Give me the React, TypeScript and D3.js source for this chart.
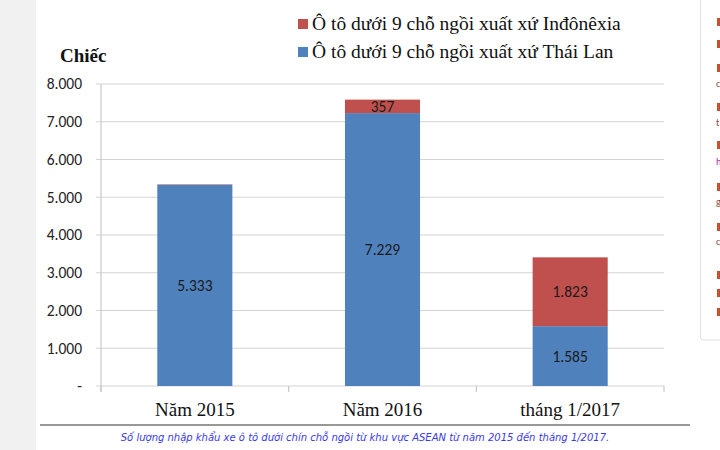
import React, { useRef, useEffect } from 'react';
import * as d3 from 'd3';

const categories = ['Năm 2015', 'Năm 2016', 'tháng 1/2017'];
const thaiLan = [5333, 7229, 1585];
const indonesia = [10, 357, 1823];
const yTicks = [0, 1000, 2000, 3000, 4000, 5000, 6000, 7000, 8000];
const seriesNames = [
  'Ô tô dưới 9 chỗ ngồi xuất xứ Inđônêxia',
  'Ô tô dưới 9 chỗ ngồi xuất xứ Thái Lan',
];
const caption =
  'Số lượng nhập khẩu xe ô tô dưới chín chỗ ngồi từ khu vực ASEAN từ năm 2015 đến tháng 1/2017.';
const sideMarks = [22, 44, 68, 107, 145, 187, 227, 275, 293, 312];
const sideLetters = [
  { y: 87, t: 'c' },
  { y: 126, t: 't' },
  { y: 165, t: 'h' },
  { y: 205, t: 'g' },
  { y: 245, t: 'c' },
];

const BLUE = '#4F81BD';
const RED = '#C0504D';

const fmt = (v: number) => (v === 0 ? '-' : d3.format(',')(v).replace(/,/g, '.'));

const App: React.FC = () => {
  const svgRef = useRef<SVGSVGElement>(null);

  useEffect(() => {
    if (!svgRef.current) return;
    const svg = d3.select(svgRef.current);
    svg.selectAll('*').remove();

    const width = 720;
    const height = 450;
    const sans = 'Calibri, Carlito, "Open Sans", "DejaVu Sans", sans-serif';
    const serif = '"Liberation Serif", "Times New Roman", serif';

    // background strips
    svg.append('rect').attr('width', width).attr('height', height).attr('fill', '#fff');
    svg.append('rect').attr('x', 0).attr('y', 0).attr('width', 36).attr('height', height).attr('fill', '#f1f1f1');

    // side panel (cropped page content)
    svg
      .append('rect')
      .attr('x', 700.5)
      .attr('y', -5)
      .attr('width', 40)
      .attr('height', 345)
      .attr('rx', 3)
      .attr('fill', '#fff')
      .attr('stroke', '#e2e2e2');
    sideMarks.forEach(y => {
      svg.append('rect').attr('x', 717).attr('y', y - 4).attr('width', 4).attr('height', 8).attr('fill', '#c8502a');
    });
    sideLetters.forEach(d => {
      svg
        .append('text')
        .attr('x', 716)
        .attr('y', d.y)
        .attr('font-family', sans)
        .attr('font-size', 10)
        .attr('fill', d.t === 'h' ? '#a0309a' : '#8a5040')
        .text(d.t);
    });

    const left = 101;
    const right = 664;
    const top = 84;
    const bottom = 386;

    const x = d3.scaleBand<string>().domain(categories).range([left, right]).padding(0);
    const y = d3.scaleLinear().domain([0, 8000]).range([bottom, top]);
    const barW = x.bandwidth() * 0.4;

    // gridlines
    svg
      .selectAll('.grid')
      .data(yTicks)
      .enter()
      .append('line')
      .attr('x1', left - 5)
      .attr('x2', right)
      .attr('y1', d => y(d))
      .attr('y2', d => y(d))
      .attr('stroke', '#d4d4d4')
      .attr('stroke-width', 1.2);

    // y axis line
    svg
      .append('line')
      .attr('x1', left)
      .attr('x2', left)
      .attr('y1', top)
      .attr('y2', bottom + 6)
      .attr('stroke', '#c8c8c8')
      .attr('stroke-width', 1.2);

    // category tick marks
    const bounds = [left, ...categories.map(c => (x(c) || 0) + x.bandwidth())];
    bounds.forEach(b => {
      svg
        .append('line')
        .attr('x1', b)
        .attr('x2', b)
        .attr('y1', bottom)
        .attr('y2', bottom + 6)
        .attr('stroke', '#c8c8c8')
        .attr('stroke-width', 1.2);
    });

    // y tick labels
    svg
      .selectAll('.ylab')
      .data(yTicks)
      .enter()
      .append('text')
      .attr('x', 82)
      .attr('y', d => y(d))
      .attr('dy', '0.35em')
      .attr('text-anchor', 'end')
      .attr('font-family', sans)
      .attr('font-size', 15.5)
      .attr('fill', '#222')
      .text(d => fmt(d));

    // bars
    categories.forEach((c, i) => {
      const cx = (x(c) || 0) + x.bandwidth() / 2;
      const t = thaiLan[i];
      const ind = indonesia[i];
      svg
        .append('rect')
        .attr('x', cx - barW / 2)
        .attr('y', y(t))
        .attr('width', barW)
        .attr('height', y(0) - y(t))
        .attr('fill', BLUE);
      svg
        .append('rect')
        .attr('x', cx - barW / 2)
        .attr('y', y(t + ind))
        .attr('width', barW)
        .attr('height', y(t) - y(t + ind))
        .attr('fill', RED);

      svg
        .append('text')
        .attr('x', cx)
        .attr('y', (y(0) + y(t)) / 2)
        .attr('dy', '0.35em')
        .attr('text-anchor', 'middle')
        .attr('font-family', sans)
        .attr('font-size', 15.5)
        .attr('fill', '#1a1a1a')
        .text(fmt(t));
      if (ind > 100) {
        svg
          .append('text')
          .attr('x', cx)
          .attr('y', (y(t) + y(t + ind)) / 2)
          .attr('dy', '0.35em')
          .attr('text-anchor', 'middle')
          .attr('font-family', sans)
          .attr('font-size', 15.5)
          .attr('fill', '#1a1a1a')
          .text(fmt(ind));
      }

      svg
        .append('text')
        .attr('x', cx)
        .attr('y', 416)
        .attr('text-anchor', 'middle')
        .attr('font-family', serif)
        .attr('font-size', 19)
        .attr('fill', '#111')
        .text(c);
    });

    // axis unit
    svg
      .append('text')
      .attr('x', 60)
      .attr('y', 62)
      .attr('font-family', serif)
      .attr('font-size', 19)
      .attr('font-weight', 'bold')
      .attr('fill', '#111')
      .text('Chiếc');

    // legend
    const legendColors = [RED, BLUE];
    seriesNames.forEach((name, i) => {
      const ly = 30 + i * 28;
      svg
        .append('rect')
        .attr('x', 298)
        .attr('y', ly - 11)
        .attr('width', 10)
        .attr('height', 10)
        .attr('fill', legendColors[i]);
      svg
        .append('text')
        .attr('x', 312)
        .attr('y', ly)
        .attr('font-family', serif)
        .attr('font-size', 19.5)
        .attr('fill', '#111')
        .text(name);
    });

    // caption
    svg
      .append('line')
      .attr('x1', 40)
      .attr('x2', 690)
      .attr('y1', 425)
      .attr('y2', 425)
      .attr('stroke', '#333')
      .attr('stroke-width', 1.2);
    svg
      .append('text')
      .attr('x', 365)
      .attr('y', 441)
      .attr('text-anchor', 'middle')
      .attr('font-family', '"DejaVu Sans", Verdana, sans-serif')
      .attr('font-size', 10)
      .attr('font-style', 'italic')
      .attr('fill', '#3a3ae6')
      .text(caption);
  }, []);

  return (
    <svg
      ref={svgRef}
      width={720}
      height={450}
      style={{ position: 'absolute', left: 0, top: 0, display: 'block' }}
    />
  );
};

export default App;
